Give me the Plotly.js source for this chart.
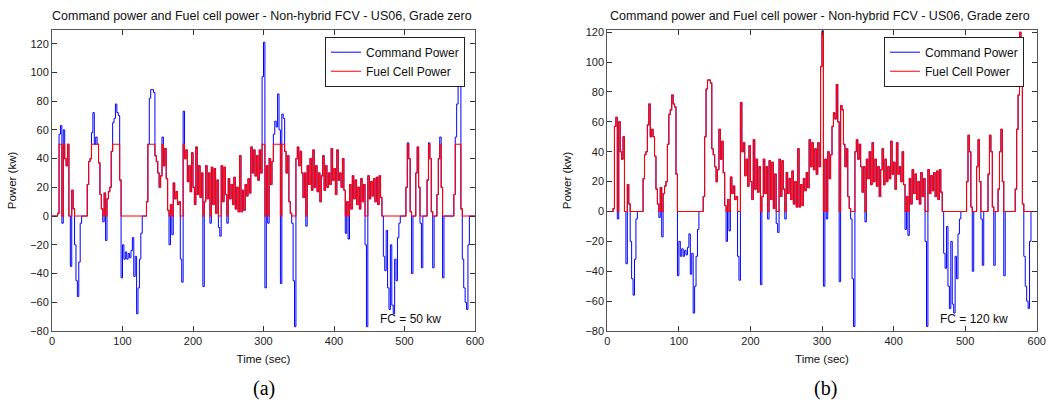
<!DOCTYPE html>
<html>
<head>
<meta charset="utf-8">
<script src="https://cdn.plot.ly/plotly-3.0.1.min.js"></script>
<style>html,body{margin:0;padding:0;background:#fff;}#chart{width:1052px;height:402px;}</style>
</head>
<body>
<div id="chart"></div>
<script>
// Time axis: samples every 2 s, from 0 to 600 s
const timeStart = 0;
const timeStep = 2;

// Command power (kW), one value per 2 s
const commandPower = [
  0, 0, 0, 0, 2, 57, 63, -5, 60, 40,
  35, 50, 0, -35, 18, 5, -20, -45, -56, -32,
  -5, 0, 0, 0, 0, 22, 38, 40, 58, 72,
  50, 55, 50, 37, 15, 5, -4, 16, -17, 12,
  17, 20, 45, 65, 68, 78, 72, 70, 25, -43,
  -20, -30, -25, -30, -26, -29, -24, -15, -42, -28,
  -68, -50, -30, -12, 0, 0, 0, 10, 50, 82,
  88, 88, 86, 42, 38, 30, 20, 28, 55, 35,
  47, 26, 4, -20, 8, -13, 23, 12, 17, 8,
  10, -30, -46, 73, 40, 46, 24, 35, 17, 44,
  20, 8, 48, 15, 35, 13, 30, -49, 10, 35,
  12, 30, -5, 34, 8, 33, 2, 25, -8, -14,
  35, 10, 34, 15, -5, 26, 12, 22, 8, 27,
  5, 20, 3, 42, 3, 18, 4, 22, 14, 26,
  16, 48, 30, 46, 28, 42, 25, 46, 30, 97,
  121, -50, 35, -5, 40, 22, 38, 57, 66, 62,
  85, 60, -47, 71, 68, 45, 30, 42, 10, 2,
  -5, -45, -77, 40, 48, 35, 45, 30, 13, 30,
  -7, 35, 22, 40, 18, 46, 20, 35, 17, 30,
  10, 28, 42, 18, 35, 20, 30, 22, 47, 25,
  33, 15, 46, 25, 30, 20, 40, 18, -12, 10,
  -16, 22, 5, 28, 12, 25, 8, 20, 5, 26,
  10, 22, -20, -77, 28, 12, 24, 14, 26, 10,
  27, 8, 28, 13, 0, -28, -38, -10, -50, -65,
  -20, -62, -68, -30, -45, -15, -5, 0, 0, 0,
  0, 20, 51, 40, 3, -40, 0, 0, 30, 48,
  20, -5, -36, 0, 0, 0, 25, 51, 40, 3,
  -36, 0, 0, 15, 40, 55, 20, -43, 0, 0,
  0, 0, 0, 0, 0, 15, 55, 78, 120, 95,
  5, -30, -50, -60, -65, -20, 0, 0, 0, 0,
  0
];

// Fuel cell rated power (kW) of each panel
const fcRatings = [50, 120];
const panelLabels = ["(a)", "(b)"];
const fcLabels = ["FC = 50 kw", "FC = 120 kw"];
const chartTitle = "Command power and Fuel cell power - Non-hybrid FCV - US06, Grade zero";
const xTicks = [0, 100, 200, 300, 400, 500, 600];
const yTicks = [-80, -60, -40, -20, 0, 20, 40, 60, 80, 100, 120];

// The fuel cell follows the command, limited to [0, rating]
const fuelCellA = commandPower.map(v => Math.min(Math.max(v, 0), fcRatings[0]));
const fuelCellB = commandPower.map(v => Math.min(Math.max(v, 0), fcRatings[1]));

const W = 1052, H = 402;
const px = v => v / W;
const py = v => 1 - v / H;

const blue = "#0000ff", red = "#ff0000";
const lineShape = "hv";
const traces = [
  {x0: timeStart, dx: timeStep, y: commandPower, type: "scatter", mode: "lines", name: "Command Power",
   line: {color: blue, width: 1, shape: lineShape}, xaxis: "x", yaxis: "y", legend: "legend"},
  {x0: timeStart, dx: timeStep, y: fuelCellA, type: "scatter", mode: "lines", name: "Fuel Cell Power",
   line: {color: red, width: 1.1, shape: lineShape}, xaxis: "x", yaxis: "y", legend: "legend"},
  {x0: timeStart, dx: timeStep, y: commandPower, type: "scatter", mode: "lines", name: "Command Power",
   line: {color: blue, width: 1, shape: lineShape}, xaxis: "x2", yaxis: "y2", legend: "legend2"},
  {x0: timeStart, dx: timeStep, y: fuelCellB, type: "scatter", mode: "lines", name: "Fuel Cell Power",
   line: {color: red, width: 1.1, shape: lineShape}, xaxis: "x2", yaxis: "y2", legend: "legend2"}
];

const fontFam = "Liberation Sans, Arial, sans-serif";
const tickFont = {family: fontFam, size: 11, color: "#222"};
const axisCommon = {
  showline: true, linecolor: "#555", linewidth: 1, mirror: "ticks",
  ticks: "inside", ticklen: 5, tickcolor: "#333", tickwidth: 1,
  showgrid: false, zeroline: false, tickfont: tickFont, tickmode: "array"
};
const xTitle = {text: "Time (sec)", font: {family: fontFam, size: 11.5, color: "#111"}, standoff: 8};
const yTitle = {text: "Power (kw)", font: {family: fontFam, size: 11.5, color: "#111"}, standoff: 11};

const legendCommon = {
  bgcolor: "#ffffff", bordercolor: "#222", borderwidth: 1,
  font: {family: fontFam, size: 12, color: "#111"},
  xanchor: "left", yanchor: "top", tracegroupgap: 0, itemwidth: 30
};

const layout = {
  width: W, height: H,
  margin: {l: 0, r: 0, t: 0, b: 0},
  paper_bgcolor: "#fff", plot_bgcolor: "#fff",
  showlegend: true,
  xaxis: Object.assign({}, axisCommon, {domain: [px(52), px(475)], range: [0, 600], tickvals: xTicks, title: xTitle, anchor: "y"}),
  yaxis: Object.assign({}, axisCommon, {domain: [py(331), py(30)], range: [-80, 129.5], tickvals: yTicks, title: yTitle, anchor: "x"}),
  xaxis2: Object.assign({}, axisCommon, {domain: [px(607.3), px(1036.7)], range: [0, 600], tickvals: xTicks, title: xTitle, anchor: "y2"}),
  yaxis2: Object.assign({}, axisCommon, {domain: [py(331), py(30)], range: [-80, 121.5], tickvals: yTicks, title: yTitle, anchor: "x2"}),
  legend: Object.assign({}, legendCommon, {x: px(325), y: py(36.7)}),
  legend2: Object.assign({}, legendCommon, {x: px(884), y: py(36.7)}),
  annotations: [
    {text: chartTitle, xref: "paper", yref: "paper", x: px(262), y: py(15.5), showarrow: false,
     xanchor: "center", yanchor: "middle", font: {family: fontFam, size: 12.5, color: "#111"}},
    {text: chartTitle, xref: "paper", yref: "paper", x: px(820), y: py(15.5), showarrow: false,
     xanchor: "center", yanchor: "middle", font: {family: fontFam, size: 12.5, color: "#111"}},
    {text: fcLabels[0], xref: "paper", yref: "paper", x: px(410), y: py(319), showarrow: false,
     xanchor: "center", yanchor: "middle", font: {family: fontFam, size: 12, color: "#111"}},
    {text: fcLabels[1], xref: "paper", yref: "paper", x: px(974), y: py(319), showarrow: false,
     xanchor: "center", yanchor: "middle", font: {family: fontFam, size: 12, color: "#111"}},
    {text: panelLabels[0], xref: "paper", yref: "paper", x: px(264), y: py(388), showarrow: false,
     xanchor: "center", yanchor: "middle", font: {family: "Liberation Serif, Times New Roman, serif", size: 20, color: "#000"}},
    {text: panelLabels[1], xref: "paper", yref: "paper", x: px(825), y: py(388), showarrow: false,
     xanchor: "center", yanchor: "middle", font: {family: "Liberation Serif, Times New Roman, serif", size: 20, color: "#000"}}
  ]
};

Plotly.newPlot("chart", traces, layout, {staticPlot: true, displayModeBar: false});
</script>
</body>
</html>
